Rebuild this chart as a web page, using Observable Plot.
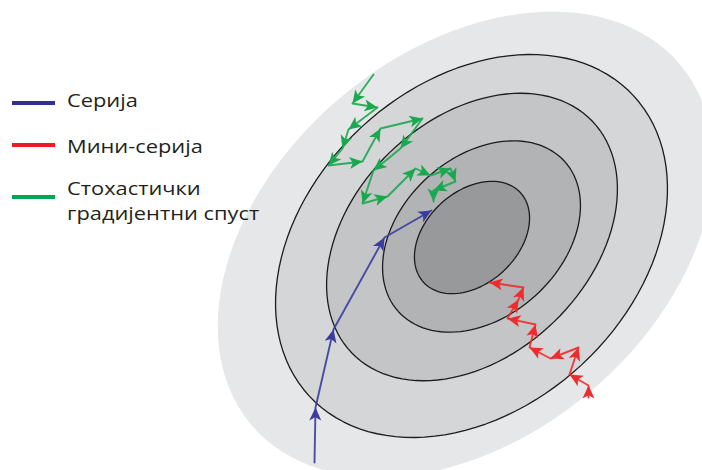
<!DOCTYPE html>
<html><head><meta charset="utf-8">
<script src="https://cdn.jsdelivr.net/npm/d3@7"></script>
<script src="https://cdn.jsdelivr.net/npm/@observablehq/plot@0.6"></script>
<style>
html,body{margin:0;padding:0;background:#fff;overflow:hidden}
#wrap{position:relative;width:702px;height:470px;overflow:hidden;background:#fff}
#wrap svg{display:block}
.legend{position:absolute;left:0;top:0;font-family:"Open Sans",sans-serif;font-size:18.5px;color:#231f20}
.sw{position:absolute;left:12px;width:43px;height:4px}
.lb{position:absolute;left:67px;line-height:25px;white-space:pre;transform:scaleX(1.18);transform-origin:0 0}
</style></head><body>
<div id="wrap"></div>
<script>
// ---- data (weight-space units) ----
const seriesNames = ["Серија", "Мини-серија", "Стохастички\nградијентни спуст"];

// contour ellipses of the loss surface: centre, semi-axes, tilt (degrees)
const contourNames = ["outer", "c1", "c2", "c3", "c4"];
const contourCx   = [-0.6, 0.0, 0.05, 1.0, 0.05];
const contourCy   = [-0.7, -0.85, 0.05, 0.1, 0.0];
const contourA    = [28.0, 22.1, 16.7, 11.2, 6.6];
const contourB    = [19.3, 16.2, 11.8, 8.0, 4.6];
const contourTilt = [40, 42.8, 44, 42, 43];

// batch gradient descent path
const batchX = [-15.7, -15.6, -13.8, -8.7, -4.0];
const batchY = [-22.5, -17.0, -9.2, 0.0, 2.7];

// mini-batch path
const miniX = [11.7, 11.7, 9.8, 10.7, 7.9, 5.8, 6.4, 3.6, 4.7, 5.2, 1.8];
const miniY = [-16.0, -14.8, -13.7, -11.0, -12.1, -11.0, -8.7, -8.1, -6.2, -5.0, -4.5];

// stochastic path
const sgdX = [-9.8, -11.9, -9.4, -12.3, -12.9, -14.3, -10.9, -9.1, -4.9, -7.1, -9.8, -10.9, -8.4, -5.6, -4.1, -2.1, -1.6, -3.8, -3.8];
const sgdY = [16.3, 13.4, 13.0, 10.8, 8.9, 7.2, 7.6, 10.9, 11.9, 8.9, 6.7, 3.4, 4.1, 6.9, 6.2, 6.9, 5.6, 4.7, 3.6];

// ---- styles ----
const contourFill = ["#e6e7e8", "#d5d6d8", "#c4c5c7", "#b2b3b5", "#98999b"];
const seriesColors = ["#2e3192", "#ed1c24", "#00a651"];
const pathColors = ["#3b3d9e", "#ef2b2b", "#19a84e"];

// ---- build tables ----
function ellipsePoints(i) {
  const pts = [];
  const th = contourTilt[i] * Math.PI / 180;
  for (let k = 0; k <= 120; k++) {
    const t = k / 120 * 2 * Math.PI;
    const ex = contourA[i] * Math.cos(t), ey = contourB[i] * Math.sin(t);
    pts.push({x: contourCx[i] + ex * Math.cos(th) - ey * Math.sin(th),
              y: contourCy[i] + ex * Math.sin(th) + ey * Math.cos(th)});
  }
  return pts;
}
function pathTable(xs, ys) { return xs.map((x, i) => ({x, y: ys[i]})); }
function arrowTable(xs, ys) {
  const out = [];
  for (let i = 1; i < xs.length; i++) {
    const dx = xs[i] - xs[i - 1], dy = ys[i] - ys[i - 1];
    out.push({x: xs[i], y: ys[i], angle: Math.atan2(dx, dy) * 180 / Math.PI});
  }
  return out;
}
const arrowHead = {
  draw(ctx) {
    const L = 13, W = 6;
    ctx.moveTo(0, 0);
    ctx.lineTo(W, L);
    ctx.lineTo(0, L * 0.75);
    ctx.lineTo(-W, L);
    ctx.closePath();
  }
};

const paths = [[batchX, batchY], [miniX, miniY], [sgdX, sgdY]];

const marks = [];
contourNames.forEach((n, i) => {
  marks.push(Plot.line(ellipsePoints(i), {
    x: "x", y: "y", fill: contourFill[i],
    stroke: i === 0 ? "none" : "#1c1c1c", strokeWidth: 1.3, clip: true
  }));
});
paths.forEach(([xs, ys], s) => {
  marks.push(Plot.line(pathTable(xs, ys), {x: "x", y: "y", stroke: pathColors[s], strokeWidth: 1.9, strokeOpacity: 0.9}));
  marks.push(Plot.dot(arrowTable(xs, ys), {x: "x", y: "y", rotate: "angle", symbol: arrowHead, fill: pathColors[s], stroke: "none", r: 6}));
});

const chart = Plot.plot({
  width: 702, height: 470, margin: 0,
  x: {domain: [-47.1, 23.1], axis: null},
  y: {domain: [-23.3, 23.7], axis: null},
  style: {background: "transparent"},
  marks
});
const wrap = document.getElementById("wrap");
wrap.appendChild(chart);

// ---- legend ----
const legend = document.createElement("div");
legend.className = "legend";
const swTop = [101, 143, 195];
const lbTop = [87, 133, 175];
seriesNames.forEach((name, i) => {
  const sw = document.createElement("div");
  sw.className = "sw"; sw.style.top = swTop[i] + "px"; sw.style.background = seriesColors[i];
  const lb = document.createElement("div");
  lb.className = "lb"; lb.style.top = lbTop[i] + "px"; lb.textContent = name;
  legend.appendChild(sw); legend.appendChild(lb);
});
wrap.appendChild(legend);
</script>
</body></html>
